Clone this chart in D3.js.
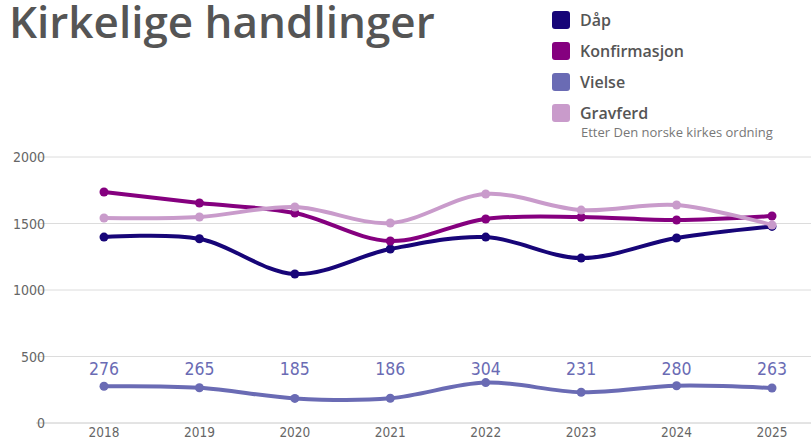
<!DOCTYPE html>
<html>
<head>
<meta charset="utf-8">
<script src="https://cdn.jsdelivr.net/npm/d3@7"></script>
<style>
  body { margin: 0; background: #fff; }
  svg { display: block; }
</style>
</head>
<body>
<div id="chart"></div>
<script>
const years = [2018, 2019, 2020, 2021, 2022, 2023, 2024, 2025];
const daap = [1398, 1385, 1120, 1308, 1398, 1240, 1391, 1478];
const konfirmasjon = [1737, 1654, 1579, 1368, 1534, 1549, 1526, 1556];
const vielse = [276, 265, 185, 186, 304, 231, 280, 263];
const gravferd = [1541, 1549, 1624, 1504, 1722, 1601, 1639, 1489];
const yTicks = [0, 500, 1000, 1500, 2000];

const series = [
  {name: 'Dåp', values: daap, color: '#170578'},
  {name: 'Konfirmasjon', values: konfirmasjon, color: '#85007f'},
  {name: 'Vielse', values: vielse, color: '#6a6bb4'},
  {name: 'Gravferd', values: gravferd, color: '#c99bcb'}
];

const width = 811, height = 441;
const svg = d3.select('#chart').append('svg')
  .attr('width', width).attr('height', height);

const x = d3.scalePoint().domain(years).range([104, 772]);
const y = d3.scaleLinear().domain([0, 2000]).range([423, 157]);

// grid
svg.append('g').selectAll('line')
  .data(yTicks).enter().append('line')
  .attr('x1', 36).attr('x2', width)
  .attr('y1', d => y(d)).attr('y2', d => y(d))
  .attr('stroke', d => d === 0 ? '#c8c8c8' : '#dcdcdc')
  .attr('stroke-width', 1);

const tickFont = '"DejaVu Sans Condensed", "Liberation Sans Narrow", sans-serif';
const mainFont = '"Open Sans", Lato, sans-serif';

svg.append('g').selectAll('text')
  .data(yTicks).enter().append('text')
  .attr('x', 45).attr('y', d => y(d) + 5)
  .attr('text-anchor', 'end')
  .attr('font-family', tickFont).attr('font-size', 14)
  .attr('fill', '#666')
  .text(d => d);

svg.append('g').selectAll('text')
  .data(years).enter().append('text')
  .attr('x', d => x(d)).attr('y', 437)
  .attr('text-anchor', 'middle')
  .attr('font-family', tickFont).attr('font-size', 13.5)
  .attr('fill', '#666')
  .text(d => d);

const line = d3.line()
  .x((d, i) => x(years[i]))
  .y(d => y(d))
  .curve(d3.curveCatmullRom.alpha(0.5));

series.forEach(s => {
  const g = svg.append('g');
  g.append('path')
    .attr('d', line(s.values))
    .attr('fill', 'none')
    .attr('stroke', s.color)
    .attr('stroke-width', 4)
    .attr('stroke-linejoin', 'round')
    .attr('stroke-linecap', 'round');
  g.selectAll('circle')
    .data(s.values).enter().append('circle')
    .attr('cx', (d, i) => x(years[i]))
    .attr('cy', d => y(d))
    .attr('r', 4.5)
    .attr('fill', s.color);
});

// value labels for Vielse
svg.append('g').selectAll('text')
  .data(vielse).enter().append('text')
  .attr('x', (d, i) => x(years[i]))
  .attr('y', y(405) + 6)
  .attr('text-anchor', 'middle')
  .attr('font-family', tickFont).attr('font-size', 17.5)
  .attr('fill', '#6a6bb4')
  .text(d => d);

// title
svg.append('text')
  .attr('x', 9).attr('y', 38)
  .attr('font-family', mainFont)
  .attr('font-weight', 600)
  .attr('font-size', 44)
  .attr('fill', '#555')
  .text('Kirkelige handlinger');

// legend
const legend = svg.append('g').selectAll('g')
  .data(series).enter().append('g')
  .attr('transform', (d, i) => `translate(552, ${20 + i * 31})`);

legend.append('rect')
  .attr('x', 0).attr('y', -9)
  .attr('width', 18).attr('height', 18)
  .attr('rx', 3)
  .attr('fill', d => d.color);

legend.append('text')
  .attr('x', 28).attr('y', 6)
  .attr('font-family', mainFont)
  .attr('font-weight', 600)
  .attr('font-size', 16)
  .attr('fill', '#555')
  .text(d => d.name);

svg.append('text')
  .attr('x', 581).attr('y', 137)
  .attr('font-family', mainFont)
  .attr('font-size', 13)
  .attr('fill', '#777')
  .text('Etter Den norske kirkes ordning');
</script>
</body>
</html>
